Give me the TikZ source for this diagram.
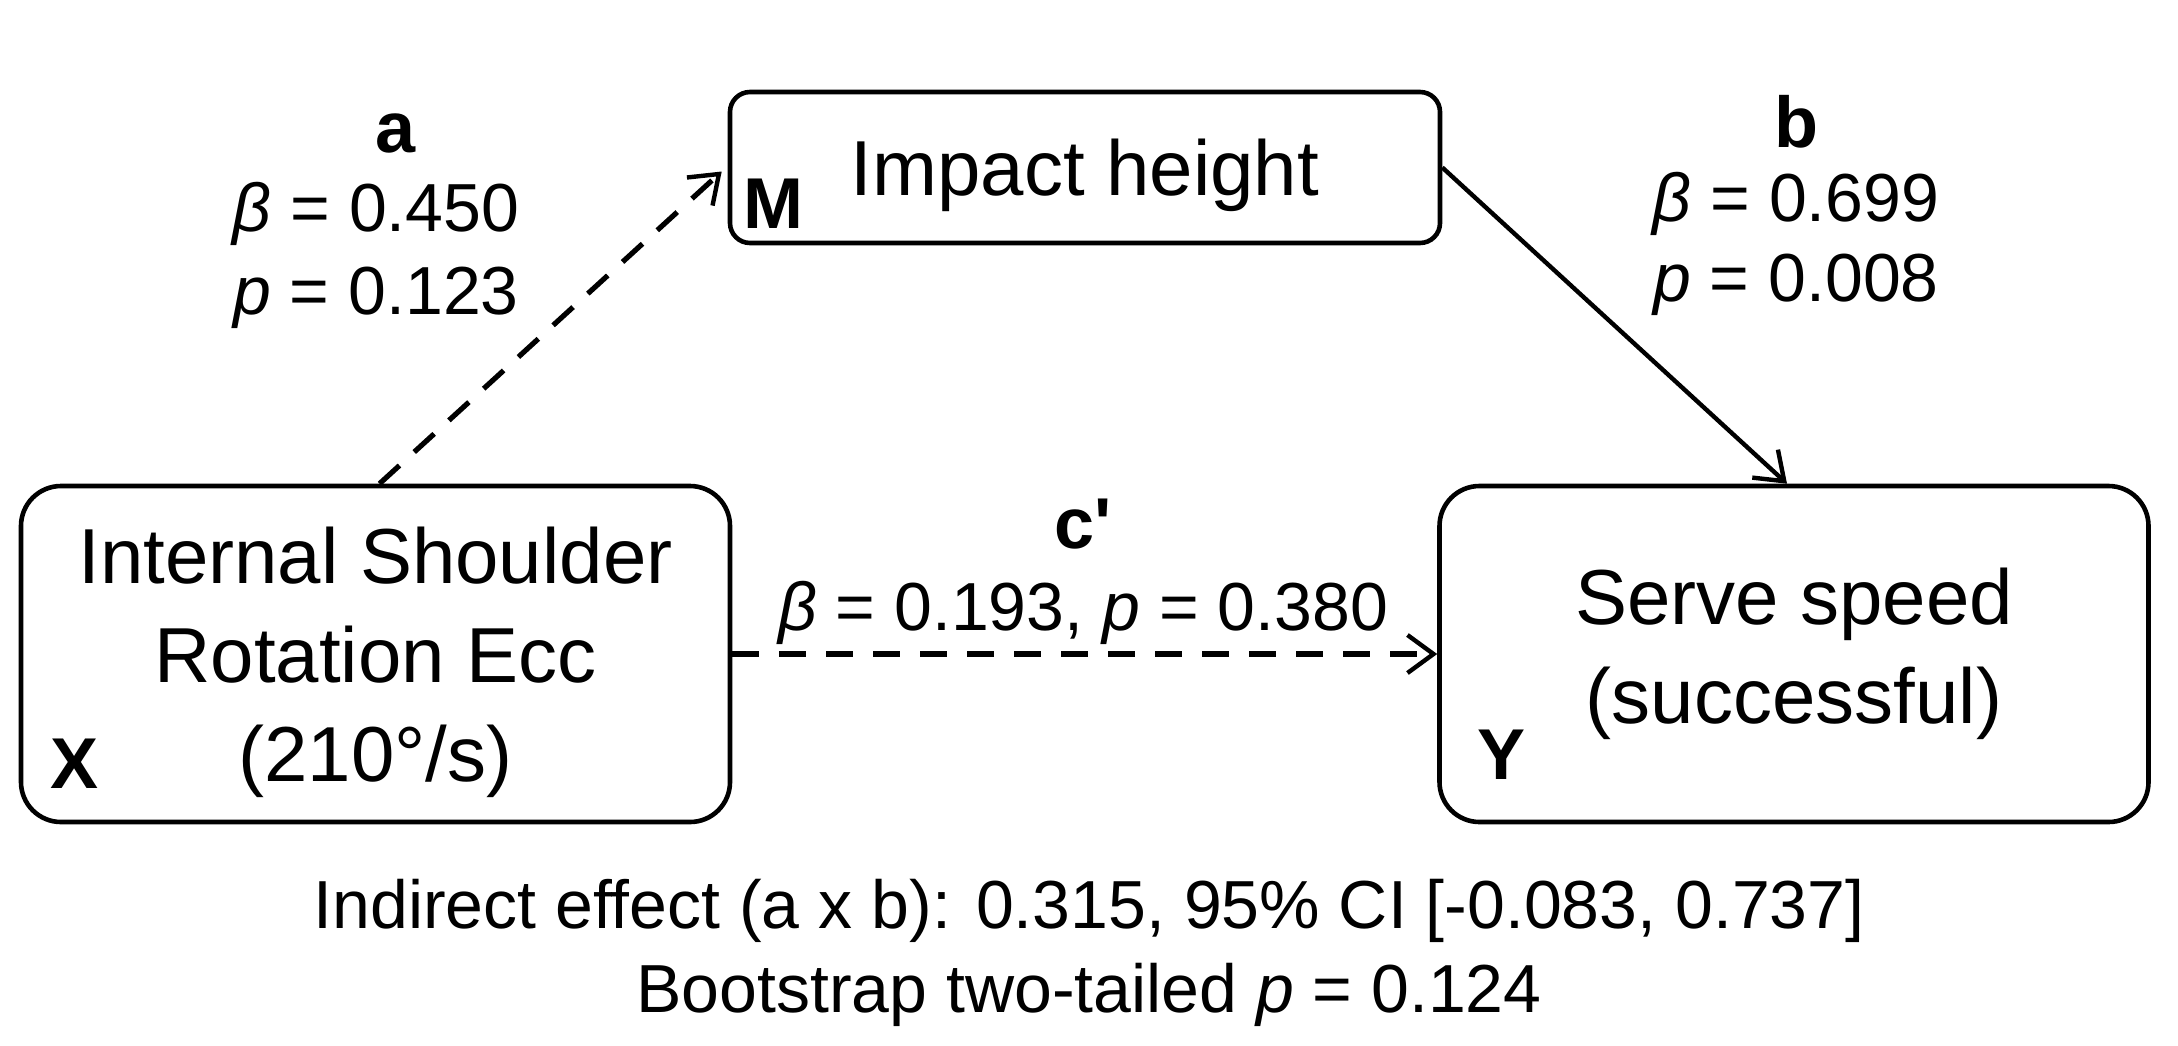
\documentclass[tikz,border=0pt]{standalone}
\usepackage{fontspec}
\setmainfont{Liberation Sans}
\newfontfamily\nomapfont{Liberation Sans}
\usetikzlibrary{arrows.meta}
\newcommand{\boxfnt}{\fontsize{39}{49.5}\selectfont}
\newcommand{\statfnt}{\fontsize{34}{40}\selectfont}
\newcommand{\labfnt}{\fontsize{36}{40}\selectfont\bfseries}
\newcommand{\notefnt}{\fontsize{34}{40}\selectfont}
\begin{document}
\begin{tikzpicture}[x=0.5pt,y=-0.5pt,
  bigbox/.style={draw, line width=2.3pt, rounded corners=20pt, align=center,
    inner sep=0pt, minimum width=354.5pt, minimum height=168pt, font=\boxfnt},
  smallbox/.style={draw, line width=2.3pt, rounded corners=10pt, align=center,
    inner sep=0pt, minimum width=355pt, minimum height=75.5pt, font=\boxfnt},
  idlab/.style={inner sep=0pt, font=\labfnt},
  coef/.style={inner sep=0pt, anchor=base, font=\labfnt},
  stat/.style={inner sep=0pt, anchor=base, font=\statfnt},
  note/.style={inner sep=0pt, anchor=base, font=\notefnt},
  conn/.style={line width=2.2pt, -{Straight Barb[length=13pt,width=19pt,line width=2.2pt]}},
  dashedconn/.style={conn, line width=2.6pt, dash pattern=on 13.5pt off 10pt}
]
\fill[white] (0,0) rectangle (2178,1045);
\useasboundingbox (0,0) rectangle (2178,1045);

% boxes
\node[bigbox, text depth=0pt] (X) at (375.5,654) {Internal Shoulder\\Rotation Ecc\\(210°/s)};
\node[bigbox] (Y) at (1794,654) {Serve speed\\(successful)};
\node[smallbox, text depth=0pt] (M) at (1085,167.5) {Impact height};

% role letters
\node[idlab] (xl) at (75,764) {X};
\node[idlab] (yl) at (1501,755) {Y};
\node[idlab] (ml) at (773,204) {M};

% connectors
\draw[dashedconn] ([xshift=2pt]X.north) -- ([xshift=-3pt,yshift=-2pt]M.west);
\draw[conn] (M.east) -- ([xshift=-3.5pt]Y.north);
\draw[dashedconn] (X.east) -- (Y.west);

% path a
\node[coef] (alab) at (396,152) {a};
\node[stat] (abeta) at (376,231) {\textit{β} = 0.450};
\node[stat] (ap) at (376,314) {\textit{p} = 0.123};

% path b
\node[coef] (blab) at (1796,147) {b};
\node[stat] (bbeta) at (1796,221) {\textit{β} = 0.699};
\node[stat] (bp) at (1796,301) {\textit{p} = 0.008};

% path c'
\node[coef] (clab) at (1083,548) {{\nomapfont\bfseries c'}};
\node[stat] (cstat) at (1083,630) {\textit{β} = 0.193, \textit{p} = 0.380};

% notes
\node[note] (n1) at (1089,928) {Indirect effect (a x b): 0.315, 95\% CI [-0.083, 0.737]};
\node[note] (n2) at (1089,1012) {Bootstrap two-tailed \textit{p} = 0.124};
\end{tikzpicture}
\end{document}
